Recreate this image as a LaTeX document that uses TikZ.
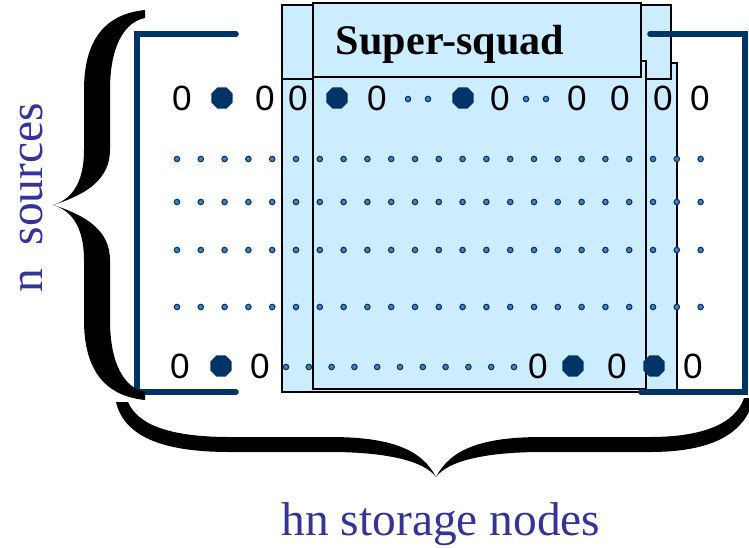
\documentclass[tikz,border=0pt]{standalone}
\usepackage{fontspec}
\setmainfont{Liberation Serif}
\newfontfamily\digitfont{Liberation Sans}
\usetikzlibrary{shapes.geometric}

\definecolor{navy}{HTML}{003366}
\definecolor{squadblue}{HTML}{CCECFF}
\definecolor{dotblue}{HTML}{4A7EBB}
\definecolor{labelblue}{HTML}{333399}

\begin{document}
\begin{tikzpicture}[x=0.02cm, y=-0.02cm,
    box/.style={draw=black, line width=1pt, fill=squadblue},
    bracket/.style={draw=navy, line width=3.2pt, line cap=round},
    zero/.style={font=\digitfont\fontsize{20}{20}\selectfont, inner sep=0pt},
    bigdot/.style={regular polygon, regular polygon sides=8, fill=navy, minimum size=0.46cm, inner sep=0pt},
    smalldot/.style={circle, fill=dotblue, draw=navy, line width=0.6pt, minimum size=0.11cm, inner sep=0pt},
    label/.style={text=labelblue, font=\fontsize{27}{27}\selectfont}]
    \useasboundingbox (0,0) rectangle (749,547);

    % Super-squad columns
    \draw[box] (282,63) rectangle (677,392);
    \draw[box] (282,5) rectangle (671,79);
    \draw[box] (313,61) rectangle (646,389);
    \draw[box] (313,3) rectangle (641,77);
    \node[font=\bfseries\fontsize{24}{24}\selectfont, anchor=base] (squad) at (450,55) {Super-squad};

    % Matrix brackets
    \draw[bracket] (236,34) -- (137,34) -- (137,392) -- (236,392);
    \draw[bracket] (650,34) -- (745,34) -- (745,392) -- (641,392);

    % First row
    \foreach \x [count=\i] in {182,265,298,377,500,577,620,663,700}
        \node[zero] (top\i) at (\x,98) {0};
    \foreach \x [count=\i] in {222,337,463}
        \node[bigdot] (topdot\i) at (\x,98) {};
    \foreach \x [count=\i] in {408,428,526,546}
        \node[smalldot] (topsmall\i) at (\x,99) {};

    % Middle rows
    \foreach \y [count=\r] in {159,202,250,307}
        \foreach \i in {0,...,22}
            \node[smalldot] (dot\r-\i) at ({177+23.8*\i},\y) {};

    % Last row
    \foreach \x [count=\i] in {180,260,538,617,693}
        \node[zero] (bot\i) at (\x,366) {0};
    \foreach \x [count=\i] in {221,573,654}
        \node[bigdot] (botdot\i) at (\x,366) {};
    \foreach \i in {0,...,10}
        \node[smalldot] (botsmall\i) at ({286+22.8*\i},367) {};

    % Braces
    \fill (145,10) .. controls (105,14) and (84,40) .. (84,90) -- (84,150)
        .. controls (84,185) and (70,200) .. (53,205)
        .. controls (70,210) and (84,225) .. (84,260) -- (84,320)
        .. controls (84,370) and (105,396) .. (145,400) -- (145,392)
        .. controls (125,388) and (110,365) .. (110,320) -- (110,260)
        .. controls (110,230) and (85,215) .. (53,205)
        .. controls (85,195) and (110,180) .. (110,150) -- (110,90)
        .. controls (110,45) and (125,22) .. (145,18) -- cycle;
    \fill (116,402) .. controls (125,440) and (170,452) .. (230,452) -- (330,452)
        .. controls (390,452) and (425,462) .. (436,477)
        .. controls (447,462) and (482,452) .. (542,452) -- (650,452)
        .. controls (710,452) and (745,435) .. (754,398) -- (744,398)
        .. controls (735,425) and (700,437) .. (650,437) -- (542,437)
        .. controls (480,437) and (450,450) .. (436,477)
        .. controls (422,450) and (392,437) .. (330,437) -- (230,437)
        .. controls (170,437) and (138,425) .. (128,402) -- cycle;

    % Labels
    \node[label, rotate=90] (sources) at (32,198) {n \ sources};
    \node[label, anchor=base] (storage) at (441,535) {hn storage nodes};
\end{tikzpicture}
\end{document}
